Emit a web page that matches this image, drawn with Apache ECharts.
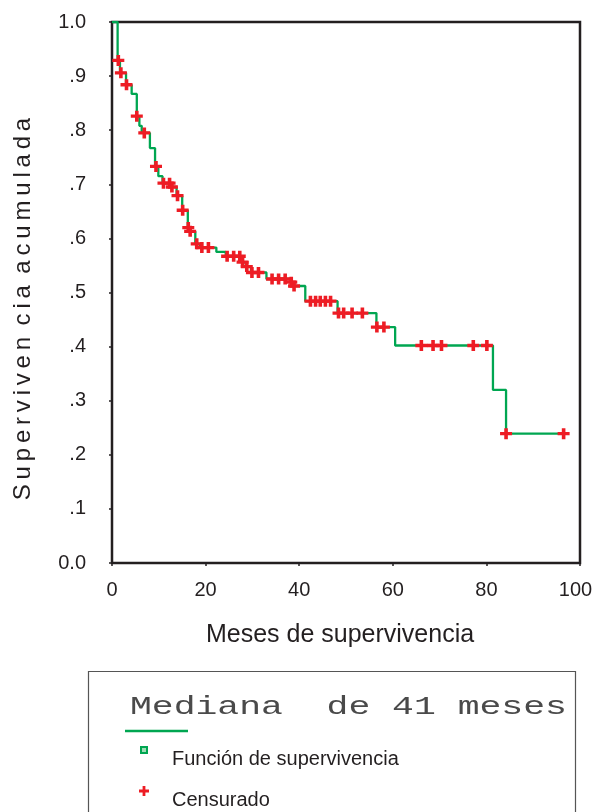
<!DOCTYPE html>
<html lang="es">
<head>
<meta charset="UTF-8">
<title>Supervivencia acumulada</title>
<script src="https://cdn.jsdelivr.net/npm/echarts@6/dist/echarts.min.js"></script>
<style>
    body { margin: 0; padding: 0; background: #fff; }
    #chart { width: 592px; height: 812px; }
</style>
</head>
<body>
<div id="chart"></div>
<script>
// funcion de supervivencia (meses, supervivencia acumulada)
var stepTimes = [0, 1.2, 1.7, 3.0, 4.2, 5.3, 5.85, 6.35, 8.1, 9.2, 9.9, 10.8, 12.6, 13.8, 15.0, 16.2, 16.6,
    17.8, 18.8, 22.3, 24.3, 27.6, 28.6, 29.7, 33.0, 38.2, 38.7, 41.3, 48.2, 56.5, 60.5, 81.4, 84.2, 96.5];
var stepSurv = [1.0, 0.929, 0.906, 0.884, 0.867, 0.826, 0.808, 0.795, 0.767, 0.733, 0.715, 0.702, 0.695, 0.679, 0.652, 0.620, 0.613,
    0.590, 0.583, 0.575, 0.567, 0.556, 0.548, 0.537, 0.525, 0.519, 0.512, 0.484, 0.462, 0.436, 0.402, 0.320, 0.239, 0.239];

// casos censurados
var censTimes = [1.35, 1.9, 3.1, 5.3, 6.9, 9.4, 11.0, 12.3, 12.8, 14.0, 15.1, 16.3, 16.7, 18.1, 19.2, 20.6,
    24.6, 26.0, 27.3, 27.9, 28.8, 29.9, 31.3, 34.2, 35.6, 37.0, 38.3, 38.9, 42.4, 43.5, 44.5, 45.6, 46.7,
    48.4, 49.5, 51.3, 53.5, 56.6, 58.1, 66.1, 68.6, 70.4, 77.2, 80.1, 84.2, 96.5];
var censSurv = [0.929, 0.906, 0.884, 0.826, 0.795, 0.733, 0.702, 0.702, 0.695, 0.679, 0.652, 0.620, 0.613, 0.590, 0.583, 0.583,
    0.567, 0.567, 0.567, 0.556, 0.548, 0.537, 0.537, 0.525, 0.525, 0.525, 0.519, 0.512, 0.484, 0.484, 0.484, 0.484, 0.484,
    0.462, 0.462, 0.462, 0.462, 0.436, 0.436, 0.402, 0.402, 0.402, 0.402, 0.402, 0.239, 0.239];

var yTickLabels = ['0.0', '.1', '.2', '.3', '.4', '.5', '.6', '.7', '.8', '.9', '1.0'];
var xTicks = [0, 20, 40, 60, 80, 100];

var green = '#00a651';
var red = '#ed1c24';
var ink = '#231f20';
var sans = '"Liberation Sans", Arial, sans-serif';
var plusPath = 'path://M3.5,0H6.5V3.5H10V6.5H6.5V10H3.5V6.5H0V3.5H3.5Z';

var stepData = stepTimes.map(function (t, i) { return [t, stepSurv[i]]; });
var censData = censTimes.map(function (t, i) { return [t, censSurv[i]]; });

// cruz roja de la leyenda, centrada en (cx, cy)
function plusPoints(cx, cy, r, w) {
    return [[cx - w, cy - r], [cx + w, cy - r], [cx + w, cy - w], [cx + r, cy - w], [cx + r, cy + w], [cx + w, cy + w],
        [cx + w, cy + r], [cx - w, cy + r], [cx - w, cy + w], [cx - r, cy + w], [cx - r, cy - w], [cx - w, cy - w]];
}

var chart = echarts.init(document.getElementById('chart'));
chart.setOption({
    backgroundColor: '#fff',
    animation: false,
    grid: {
        left: 112, top: 22, width: 468, height: 541,
        outerBoundsMode: 'none',
        show: true, borderColor: ink, borderWidth: 2.5
    },
    xAxis: {
        type: 'value', min: xTicks[0], max: xTicks[xTicks.length - 1], interval: 20,
        splitLine: { show: false },
        axisLine: { show: false },
        axisTick: { show: true, length: 3, lineStyle: { color: ink, width: 1.5 } },
        axisLabel: {
            margin: 17, fontSize: 20, color: ink, fontFamily: sans,
            // el ultimo rotulo queda algo a la izquierda para que quepa
            formatter: function (v) { return v === 100 ? '{last|' + v + '}' : String(v); },
            rich: { last: { fontSize: 20, color: ink, fontFamily: sans, padding: [0, 9, 0, 0] } }
        }
    },
    yAxis: {
        type: 'value', min: 0, max: 1, interval: 0.1,
        splitLine: { show: false },
        axisLine: { show: false },
        axisTick: { show: true, length: 3, lineStyle: { color: ink, width: 1.5 } },
        axisLabel: {
            margin: 26, fontSize: 20, color: ink, fontFamily: sans,
            formatter: function (v) { return yTickLabels[Math.round(v * 10)]; }
        }
    },
    series: [
        {
            name: 'Función de supervivencia',
            type: 'line',
            step: 'end',
            data: stepData,
            showSymbol: false,
            lineStyle: { color: green, width: 2.3 },
            z: 2
        },
        {
            name: 'Censurado',
            type: 'scatter',
            data: censData,
            symbol: plusPath,
            symbolSize: [12, 11],
            itemStyle: { color: red, opacity: 1 },
            z: 3
        }
    ],
    graphic: [
        // titulos de ejes
        {
            type: 'text', x: 11, y: 309, rotation: Math.PI / 2,
            style: {
                text: 'S\u2009u\u2009p\u2009e\u2009r\u2009v\u2009i\u2009v\u2009e\u2009n\u2009 c\u2009i\u2009a\u2009 a\u2009c\u2009u\u2009m\u2009u\u2009l\u2009a\u2009d\u2009a',
                font: '24px ' + sans, fill: ink, align: 'center', verticalAlign: 'top'
            }
        },
        {
            type: 'text', x: 340, y: 623,
            style: { text: 'Meses de supervivencia', font: '25px ' + sans, fill: ink, align: 'center', verticalAlign: 'top' }
        },
        // leyenda
        {
            type: 'rect', shape: { x: 88.5, y: 671.5, width: 487, height: 160 },
            style: { fill: 'none', stroke: '#555', lineWidth: 1.2 }
        },
        {
            type: 'text', x: 130, y: 694, scaleX: 1.4,
            style: { text: 'Mediana  de 41 meses', font: '26px "Liberation Mono", "Courier New", monospace', fill: '#4a4a4a' }
        },
        {
            type: 'line', shape: { x1: 125, y1: 731, x2: 188, y2: 731 },
            style: { stroke: green, lineWidth: 2.5 }
        },
        {
            type: 'rect', shape: { x: 141, y: 747, width: 6, height: 6 },
            style: { fill: '#9fdcb5', stroke: green, lineWidth: 2 }
        },
        {
            type: 'text', x: 172, y: 759,
            style: { text: 'Función de supervivencia', font: '20px ' + sans, fill: ink, verticalAlign: 'middle' }
        },
        {
            type: 'polygon', shape: { points: plusPoints(144, 791, 5, 1.4) },
            style: { fill: red }
        },
        {
            type: 'text', x: 172, y: 800,
            style: { text: 'Censurado', font: '20px ' + sans, fill: ink, verticalAlign: 'middle' }
        }
    ]
});
</script>
</body>
</html>
